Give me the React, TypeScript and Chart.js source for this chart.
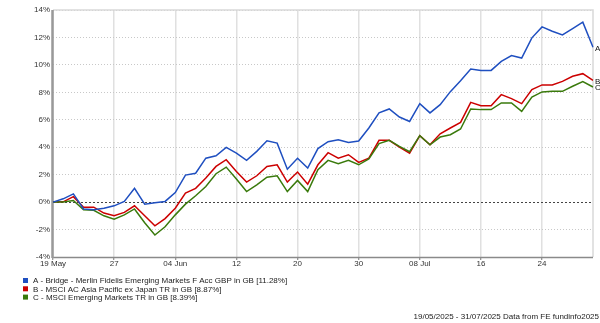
import React, { useEffect, useRef } from "react";
import { Chart, registerables } from "chart.js";

Chart.register(...registerables);

// Business days 19 May 2025 - 31 Jul 2025
const categories: string[] = [
  "19 May", "20 May", "21 May", "22 May", "23 May", "26 May", "27 May", "28 May", "29 May", "30 May",
  "02 Jun", "03 Jun", "04 Jun", "05 Jun", "06 Jun", "09 Jun", "10 Jun", "11 Jun", "12 Jun", "13 Jun",
  "16 Jun", "17 Jun", "18 Jun", "19 Jun", "20 Jun", "23 Jun", "24 Jun", "25 Jun", "26 Jun", "27 Jun",
  "30 Jun", "01 Jul", "02 Jul", "03 Jul", "04 Jul", "07 Jul", "08 Jul", "09 Jul", "10 Jul", "11 Jul",
  "14 Jul", "15 Jul", "16 Jul", "17 Jul", "18 Jul", "21 Jul", "22 Jul", "23 Jul", "24 Jul", "25 Jul",
  "28 Jul", "29 Jul", "30 Jul", "31 Jul",
];

const tickEvery = 6;
const tickLabels: string[] = ["19 May", "27", "04 Jun", "12", "20", "30", "08 Jul", "16", "24"];

const yTicks: number[] = [-4, -2, 0, 2, 4, 6, 8, 10, 12, 14];

const seriesA: number[] = [
  0, 0.24, 0.6, -0.5, -0.55, -0.45, -0.27, 0.05, 1.0, -0.15,
  -0.05, 0.05, 0.7, 1.97, 2.1, 3.2, 3.38, 3.99, 3.57, 3.04,
  3.7, 4.47, 4.3, 2.4, 3.2, 2.48, 3.9, 4.4, 4.55, 4.35,
  4.45, 5.4, 6.5, 6.79, 6.2, 5.88, 7.17, 6.5, 7.1, 8.05,
  8.85, 9.7, 9.6, 9.6, 10.26, 10.68, 10.5, 11.97, 12.77, 12.45,
  12.19, 12.65, 13.11, 11.28,
];

const seriesB: number[] = [
  0, 0.02, 0.4, -0.37, -0.37, -0.8, -1.0, -0.75, -0.27, -1.0,
  -1.73, -1.2, -0.45, 0.66, 1.0, 1.75, 2.6, 3.09, 2.23, 1.46,
  1.92, 2.6, 2.72, 1.46, 2.19, 1.31, 2.72, 3.6, 3.2, 3.45,
  2.89, 3.2, 4.5, 4.5, 4.0, 3.57, 4.84, 4.18, 4.98, 5.4,
  5.81, 7.27, 7.03, 7.03, 7.83, 7.54, 7.18, 8.2, 8.54, 8.54,
  8.8, 9.17, 9.36, 8.87,
];

const seriesC: number[] = [
  0, 0.0, 0.12, -0.56, -0.6, -1.0, -1.24, -0.93, -0.5, -1.5,
  -2.4, -1.8, -0.93, -0.15, 0.46, 1.14, 2.07, 2.55, 1.68, 0.77,
  1.26, 1.82, 1.92, 0.77, 1.58, 0.77, 2.36, 3.04, 2.8, 3.04,
  2.72, 3.14, 4.26, 4.5, 4.06, 3.67, 4.84, 4.18, 4.74, 4.91,
  5.33, 6.79, 6.74, 6.74, 7.23, 7.23, 6.61, 7.66, 8.03, 8.07,
  8.07, 8.44, 8.78, 8.39,
];

const seriesKeys: string[] = ["A", "B", "C"];
const seriesNames: string[] = [
  "A - Bridge - Merlin Fidelis Emerging Markets F Acc GBP in GB [11.28%]",
  "B - MSCI AC Asia Pacific ex Japan TR in GB [8.87%]",
  "C - MSCI Emerging Markets TR in GB [8.39%]",
];
const seriesColors: string[] = ["#1f4fc0", "#cc0000", "#3a7a0c"];
const footerText = "19/05/2025 - 31/07/2025 Data from FE fundinfo2025";

const FONT = "'Liberation Sans', Arial, Helvetica, sans-serif";

export default function App() {
  const ref = useRef<HTMLCanvasElement>(null);

  useEffect(() => {
    const canvas = ref.current;
    if (!canvas) return;
    const allSeries = [seriesA, seriesB, seriesC];

    const overlay = {
      id: "overlay",
      beforeDatasetsDraw(chart: any) {
        const { ctx, chartArea } = chart;
        const ys = chart.scales.y;
        const { left, right, top, bottom } = chartArea;
        ctx.save();
        // zero line
        const y0 = Math.round(ys.getPixelForValue(0)) + 0.5;
        ctx.setLineDash([2, 2]);
        ctx.strokeStyle = "#444";
        ctx.lineWidth = 1;
        ctx.beginPath();
        ctx.moveTo(left, y0);
        ctx.lineTo(right, y0);
        ctx.stroke();
        ctx.setLineDash([]);
        // frame top/right
        ctx.strokeStyle = "#d9d9d9";
        ctx.lineWidth = 1.5;
        ctx.beginPath();
        ctx.moveTo(left, top);
        ctx.lineTo(right, top);
        ctx.lineTo(right, bottom);
        ctx.stroke();
        // bottom axis
        ctx.strokeStyle = "#8a8a8a";
        ctx.lineWidth = 1.5;
        ctx.beginPath();
        ctx.moveTo(left, bottom + 0.5);
        ctx.lineTo(right, bottom + 0.5);
        ctx.stroke();
        // left axis
        ctx.strokeStyle = "#999";
        ctx.lineWidth = 2.5;
        ctx.beginPath();
        ctx.moveTo(left - 0.5, top);
        ctx.lineTo(left - 0.5, bottom + 1);
        ctx.stroke();
        ctx.restore();
      },
      afterDraw(chart: any) {
        const { ctx, chartArea } = chart;
        const ys = chart.scales.y;
        ctx.save();
        // end labels
        ctx.font = `8px ${FONT}`;
        ctx.fillStyle = "#111";
        ctx.textBaseline = "middle";
        ctx.textAlign = "left";
        allSeries.forEach((s, i) => {
          const v = s[s.length - 1];
          ctx.fillText(seriesKeys[i], chartArea.right + 2, ys.getPixelForValue(v) + 1);
        });
        // legend
        const rowsY = [281, 289.3, 297.6];
        seriesNames.forEach((name, i) => {
          ctx.fillStyle = seriesColors[i];
          ctx.fillRect(23, rowsY[i] - 3, 5, 5);
          ctx.fillStyle = "#222";
          ctx.fillText(name, 33, rowsY[i]);
        });
        // footer
        ctx.textAlign = "right";
        ctx.fillText(footerText, 599, 317);
        ctx.restore();
      },
    };

    const chart = new Chart(canvas, {
      type: "line",
      data: {
        labels: categories,
        datasets: allSeries.map((s, i) => ({
          label: seriesNames[i],
          data: s,
          borderColor: seriesColors[i],
          backgroundColor: seriesColors[i],
          borderWidth: 1.5,
          pointRadius: 0,
          tension: 0,
          fill: false,
          order: i === 0 ? 0 : i === 1 ? 2 : 1,
        })),
      },
      options: {
        responsive: false,
        animation: false,
        devicePixelRatio: 1,
        events: [],
        layout: { padding: { top: 10, right: 7, left: 0, bottom: 0 } },
        plugins: {
          legend: { display: false },
          tooltip: { enabled: false },
        },
        scales: {
          x: {
            type: "category",
            offset: false,
            grid: {
              offset: false,
              color: "#e0e0e0",
              lineWidth: 1.5,
              drawTicks: true,
              tickLength: 3,
              tickColor: "#777",
              tickWidth: 1,
            },
            border: { display: false },
            ticks: {
              autoSkip: false,
              maxRotation: 0,
              minRotation: 0,
              padding: -1,
              color: "#333",
              font: { family: FONT, size: 8 },
              callback: (_v: any, i: number) =>
                i % tickEvery === 0 ? tickLabels[i / tickEvery] : null,
            },
            afterFit: (s: any) => {
              s.height = 66;
            },
          },
          y: {
            min: yTicks[0],
            max: yTicks[yTicks.length - 1],
            afterBuildTicks: (s: any) => {
              s.ticks = yTicks.map((v) => ({ value: v }));
            },
            ticks: {
              padding: 3,
              color: "#333",
              font: { family: FONT, size: 8 },
              callback: (v: any) => `${v}%`,
            },
            grid: {
              color: (c: any) => (c.tick && c.tick.value === 0 ? "rgba(0,0,0,0)" : "#c8c8c8"),
              lineWidth: 1,
              drawTicks: false,
            },
            border: { display: false, dash: [1, 2] },
            afterFit: (s: any) => {
              s.width = 53;
            },
          },
        },
      } as any,
      plugins: [overlay],
    });

    return () => chart.destroy();
  }, []);

  return (
    <div style={{ position: "fixed", left: 0, top: 0, width: 600, height: 323, background: "#fff" }}>
      <canvas ref={ref} width={600} height={323} style={{ display: "block", width: 600, height: 323 }} />
    </div>
  );
}
